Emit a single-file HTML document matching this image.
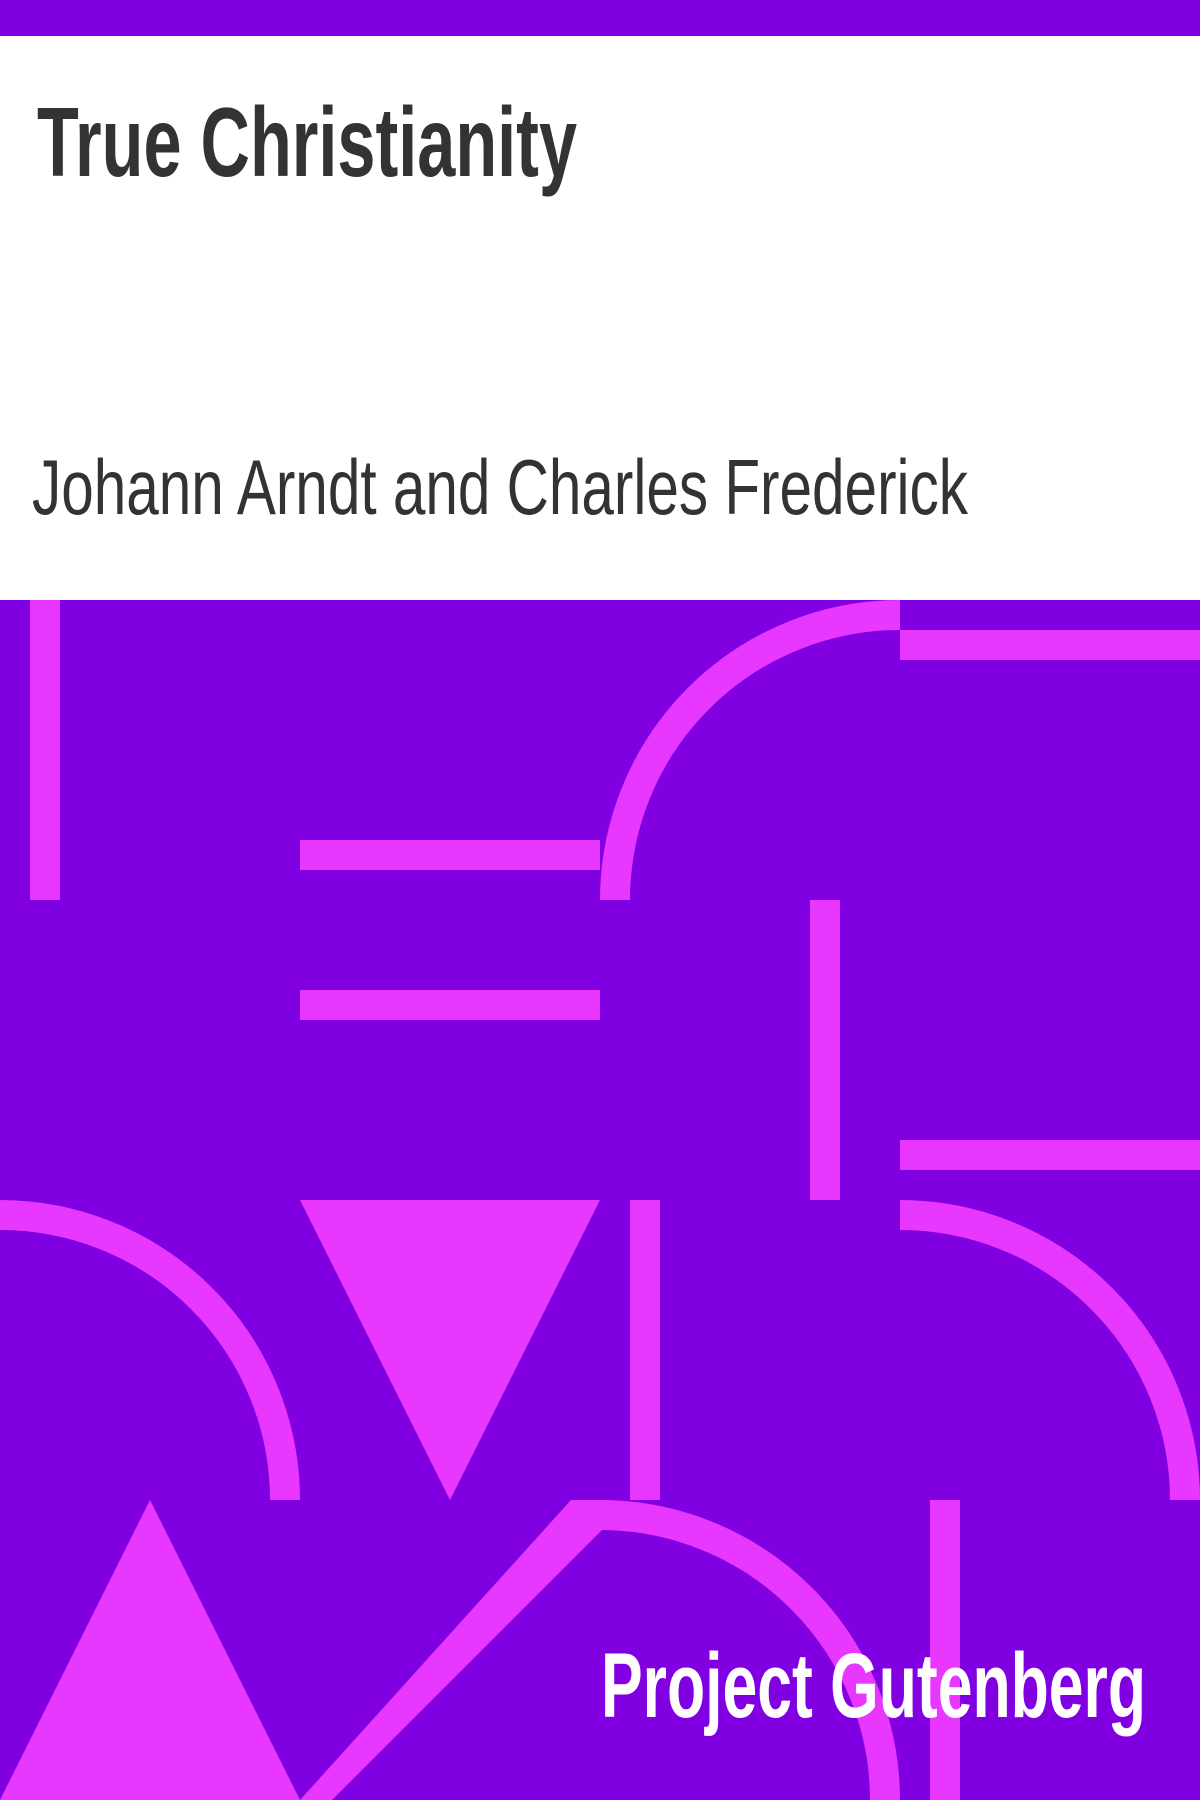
<!DOCTYPE html>
<html><head><meta charset="utf-8"><style>html,body{margin:0;padding:0;background:#fff}svg{display:block}</style></head>
<body>
<svg width="1200" height="1800" viewBox="0 0 1200 1800" xmlns="http://www.w3.org/2000/svg">
<rect x="0" y="0" width="1200" height="36" fill="#8000e2"/>
<rect x="0" y="36" width="1200" height="564" fill="#fff"/>
<text x="37" y="176" font-family="'Liberation Sans Narrow','Liberation Sans',sans-serif" font-weight="bold" font-size="98" fill="#333" textLength="540" lengthAdjust="spacingAndGlyphs">True Christianity</text>
<text x="32" y="514" font-family="'Liberation Sans Narrow','Liberation Sans',sans-serif" font-size="78" fill="#333" textLength="936" lengthAdjust="spacingAndGlyphs">Johann Arndt and Charles Frederick</text>
<g>
<rect x="0" y="600" width="1200" height="1200" fill="#8000e2"/>
<g fill="#e838ff">
<rect x="30" y="600" width="30" height="300"/>
<rect x="300" y="840" width="300" height="30"/>
<rect x="300" y="990" width="300" height="30"/>
<rect x="900" y="630" width="300" height="30"/>
<rect x="810" y="900" width="30" height="300"/>
<rect x="900" y="1140" width="300" height="30"/>
<rect x="630" y="1200" width="30" height="300"/>
<rect x="930" y="1500" width="30" height="300"/>
<polygon points="300,1200 600,1200 450,1500"/>
<polygon points="0,1800 300,1800 150,1500"/>
<polygon points="300,1800 571,1500 602,1500 602,1530 332,1800"/>
</g>
<g fill="none" stroke="#e838ff" stroke-width="30">
<path d="M615,900 A285,285 0 0 1 900,615"/>
<path d="M0,1215 A285,285 0 0 1 285,1500"/>
<path d="M900,1215 A285,285 0 0 1 1185,1500"/>
<path d="M600,1515 A285,285 0 0 1 885,1800"/>
</g>
</g>
<text x="1146" y="1717" text-anchor="end" font-family="'Liberation Sans Narrow','Liberation Sans',sans-serif" font-weight="bold" font-size="92" fill="#fff" textLength="545" lengthAdjust="spacingAndGlyphs">Project Gutenberg</text>
</svg>
</body></html>
